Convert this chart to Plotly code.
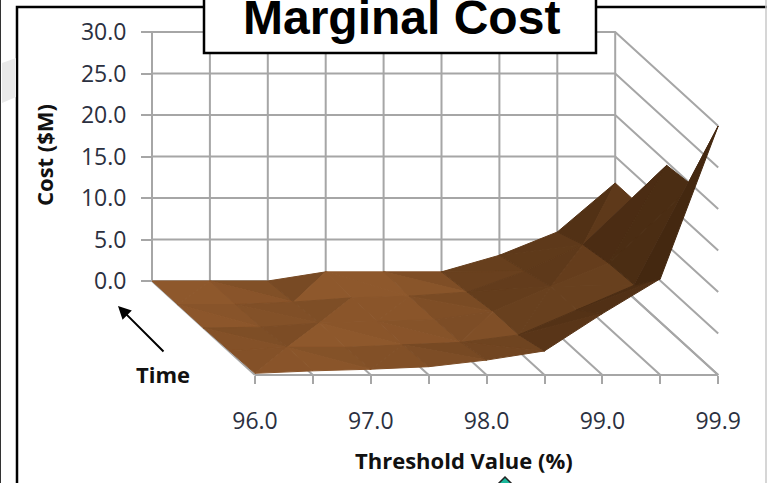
import plotly.graph_objects as go

thresholds = [96.0, 96.5, 97.0, 97.5, 98.0, 98.5, 99.0, 99.5, 99.9]
tick_labels = ["96.0", "", "97.0", "", "98.0", "", "99.0", "", "99.9"]
time_steps = [0, 1, 2, 3, 4]  # 0 = front row, 4 = back row
cost_front = [0.2, 0.5, 0.7, 1.0, 1.8, 2.9, 7.4, 11.6, 30.0]
cost_row1 = [0.1, 0.5, 0.5, 0.8, 1.1, 2.0, 5.0, 8.0, 20.0]
cost_row2 = [0.0, 0.1, 0.6, 0.8, 1.0, 2.0, 5.0, 7.8, 19.6]
cost_row3 = [0.0, 0.0, 0.3, 0.8, 1.0, 1.5, 4.0, 7.2, 11.8]
cost_back = [0.0, 0.0, 0.0, 1.1, 1.1, 1.1, 3.1, 5.9, 11.8]
cost_ticks = [0, 5, 10, 15, 20, 25, 30]
cost = [cost_front, cost_row1, cost_row2, cost_row3, cost_back]

W, H = 767, 483
PX_I = 57.9
PX_Z = 8.3
DX = 103 / PX_I
DY = 94 / PX_Z
X_BACK = 152
Y_BACK = 281

def proj(i, f, z):
    """oblique projection: i = threshold index, f = 0 front..1 back, z = cost"""
    return i - DX * f + DX, z + DY * f - DY

x_range = [-X_BACK / PX_I, (W - X_BACK) / PX_I]
y_range = [-(H - Y_BACK) / PX_Z, Y_BACK / PX_Z]

GRID = "#a6a6a6"
fig = go.Figure()

def seg(pts, color=GRID, width=2):
    xs, ys = zip(*[proj(*p) for p in pts])
    fig.add_trace(go.Scatter(x=xs, y=ys, mode="lines", line=dict(color=color, width=width),
                             hoverinfo="skip", showlegend=False))

n = len(thresholds) - 1
for z in cost_ticks:
    seg([(0, 1, z), (n, 1, z), (n, 0, z)])
for i in range(n + 1):
    seg([(i, 1, cost_ticks[-1]), (i, 1, 0), (i, 0, 0)])
seg([(0, 0, 0), (n, 0, 0)])

def shade(p, q, r):
    # triangle seen from behind (screen winding flipped) -> underside colour
    p2, q2, r2 = proj(*p), proj(*q), proj(*r)
    screen = (q2[0] - p2[0]) * (r2[1] - p2[1]) * PX_Z - (q2[1] - p2[1]) * (r2[0] - p2[0]) * PX_Z
    ax, ay, az = q[0] - p[0], (q[1] - p[1]) * 4.0, (q[2] - p[2]) * 0.30
    bx, by, bz = r[0] - p[0], (r[1] - p[1]) * 4.0, (r[2] - p[2]) * 0.30
    nx, ny, nz = ay * bz - az * by, az * bx - ax * bz, ax * by - ay * bx
    norm = (nx * nx + ny * ny + nz * nz) ** 0.5 or 1
    if nz < 0:
        nx, ny, nz, screen = -nx, -ny, -nz, -screen
    if screen < 0:
        return "rgb(100,72,55)"
    lit = min(1.0, (nz - 0.55 * ny + 0.1 * nx) / norm)
    t = max(0.0, 1 - max(0.0, 1 - lit) ** 0.6)
    dark, light = (68, 40, 16), (142, 88, 44)
    return "rgb(%d,%d,%d)" % tuple(round(a + (b - a) * t) for a, b in zip(dark, light))

rows = len(time_steps) - 1
for r in range(rows, 0, -1):
    f1, f0 = time_steps[r] / rows, time_steps[r - 1] / rows
    for i in range(n):
        a = (i, f1, cost[r][i])
        b = (i + 1, f1, cost[r][i + 1])
        c = (i + 1, f0, cost[r - 1][i + 1])
        d = (i, f0, cost[r - 1][i])
        # split each cell along its ridge (the higher diagonal)
        tris = ((a, b, c), (a, c, d)) if a[2] + c[2] > b[2] + d[2] else ((a, b, d), (b, c, d))
        for tri in tris:
            xs, ys = zip(*[proj(*p) for p in tri])
            col = shade(*tri)
            fig.add_trace(go.Scatter(x=list(xs) + [xs[0]], y=list(ys) + [ys[0]], mode="lines",
                                     fill="toself", fillcolor=col, line=dict(color=col, width=1),
                                     hoverinfo="skip", showlegend=False))

AX_FONT = dict(family="Open Sans, Noto Sans, sans-serif", size=23, color="#2b3040")
BOLD = dict(family="Open Sans, Noto Sans, sans-serif", size=22, color="#111111")

fig.update_layout(
    width=W, height=H, margin=dict(l=0, r=0, t=0, b=0), autosize=False,
    paper_bgcolor="white", plot_bgcolor="white", showlegend=False,
    xaxis=dict(range=x_range, showgrid=False, zeroline=False, showline=False,
               anchor="free", position=(H - 375) / H,
               tickmode="array", tickvals=[DX + i for i in range(n + 1)], ticktext=tick_labels,
               ticks="outside", ticklen=8, tickcolor=GRID, tickwidth=2, tickfont=AX_FONT,
               ticklabelstandoff=17),
    yaxis=dict(range=y_range, showgrid=False, zeroline=False, showline=False,
               anchor="free", position=X_BACK / W,
               tickmode="array", tickvals=cost_ticks, ticktext=[f"{v:.1f}" for v in cost_ticks],
               ticks="outside", ticklen=11, tickcolor=GRID, tickwidth=2, tickfont=AX_FONT,
               ticklabelstandoff=10),
)

def px(x): return x / W
def py(y): return 1 - y / H

shapes = [
    dict(type="rect", xref="paper", yref="paper", x0=px(17), x1=px(800), y0=py(7), y1=py(520),
         line=dict(color="black", width=2.5), fillcolor="rgba(0,0,0,0)", layer="below"),
    dict(type="line", xref="paper", yref="paper", x0=px(0), x1=px(0), y0=0, y1=1,
         line=dict(color="#333333", width=2)),
    dict(type="line", xref="paper", yref="paper", x0=px(766), x1=px(766), y0=0, y1=1,
         line=dict(color="#c8c8c8", width=1.5)),
    dict(type="path", xref="paper", yref="paper",
         path=f"M {px(2)} {py(63)} L {px(16)} {py(58)} L {px(16)} {py(97)} L {px(2)} {py(103)} Z",
         fillcolor="#e9e9e9", line=dict(width=0), layer="below"),
    dict(type="rect", xref="paper", yref="paper", x0=px(204), x1=px(596), y0=py(-5), y1=py(53),
         line=dict(color="black", width=2.5), fillcolor="white"),
    dict(type="path", xref="paper", yref="paper",
         path=f"M {px(505)} {py(477)} L {px(514)} {py(486)} L {px(496)} {py(486)} Z",
         fillcolor="#1bb89c", line=dict(color="#222222", width=1.5)),
]
fig.update_layout(shapes=shapes)

def note(x, y, text, font, **kw):
    fig.add_annotation(xref="paper", yref="paper", x=px(x), y=py(y), text=text, showarrow=False,
                       font=font, xanchor="center", yanchor="middle", **kw)

note(401, 17, "<b>Marginal Cost</b>", dict(family="Liberation Sans, Arial, sans-serif", size=48, color="black"))
note(464, 460, "<b>Threshold Value (%)</b>", BOLD)
note(44, 155, "<b>Cost ($M)</b>", BOLD, textangle=-90)
note(163, 374, "<b>Time</b>", BOLD)
fig.add_annotation(xref="paper", yref="paper", axref="pixel", ayref="pixel",
                   x=px(118), y=py(306), ax=47, ay=47, text="", showarrow=True,
                   arrowhead=2, arrowsize=1.3, arrowwidth=2, arrowcolor="black")

fig.write_html("out.html", config=dict(displayModeBar=False),
               post_script="document.body.style.margin='0';document.body.style.overflow='hidden';")
